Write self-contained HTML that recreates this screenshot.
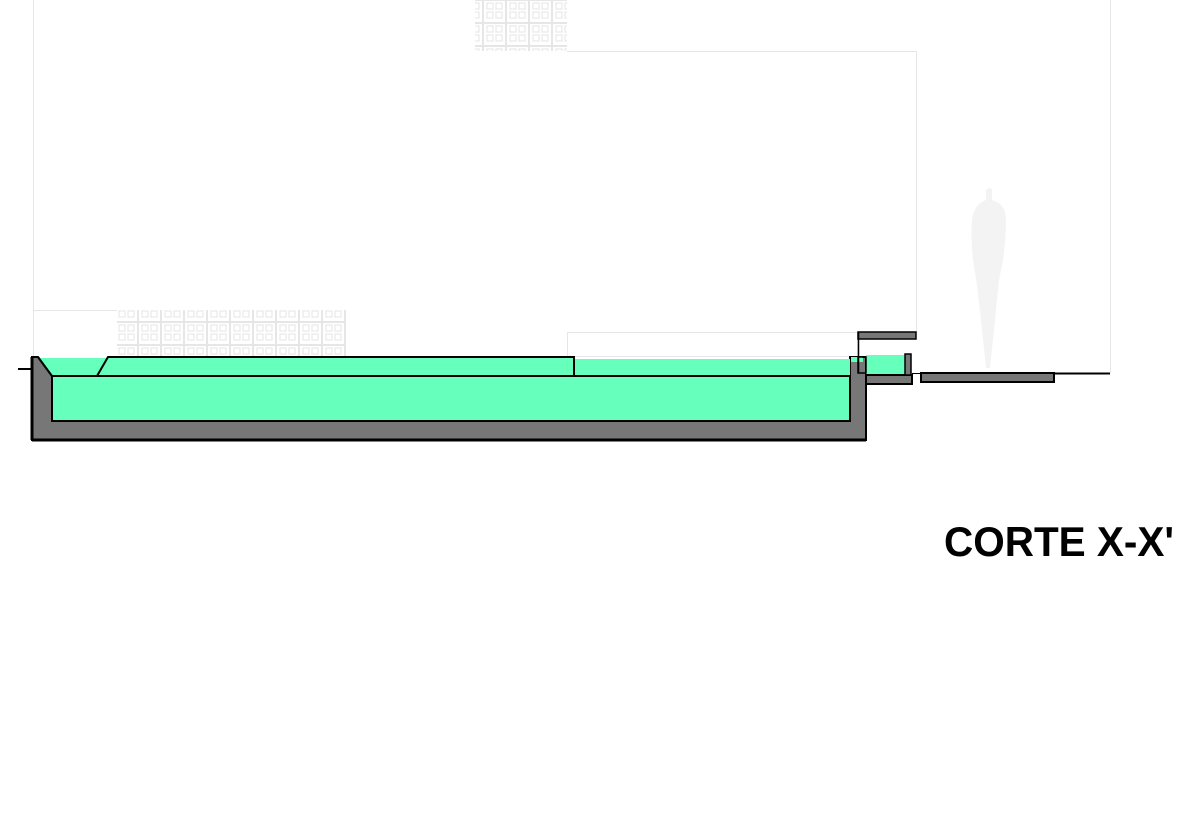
<!DOCTYPE html>
<html><head><style>
html,body{margin:0;padding:0;background:#fff;}
svg{display:block;}
</style></head><body>
<svg width="1200" height="814" viewBox="0 0 1200 814" xmlns="http://www.w3.org/2000/svg">
<defs>
<pattern id="blk" x="0" y="0" width="23" height="23" patternUnits="userSpaceOnUse">
<rect x="0.5" y="0.5" width="22" height="22" fill="none" stroke="#e6e6e6" stroke-width="1"/>
<rect x="4" y="3" width="6" height="6" fill="none" stroke="#e4e4e4" stroke-width="1"/>
<rect x="13" y="3" width="6" height="6" fill="none" stroke="#e4e4e4" stroke-width="1"/>
<rect x="4" y="12" width="6" height="6" fill="none" stroke="#e4e4e4" stroke-width="1"/>
<rect x="13" y="12" width="6" height="6" fill="none" stroke="#e4e4e4" stroke-width="1"/>
</pattern>
</defs>
<!-- light background structure -->
<g fill="none" stroke="#e6e6e6" stroke-width="1">
<line x1="33.5" y1="0" x2="33.5" y2="356"/>
<line x1="33" y1="310.5" x2="117" y2="310.5"/>
<line x1="567" y1="51.5" x2="917" y2="51.5"/>
<line x1="916.5" y1="51" x2="916.5" y2="332"/>
<line x1="1110.5" y1="0" x2="1110.5" y2="373"/>
<rect x="567.5" y="332.5" width="290" height="24"/>
</g>
<rect x="475" y="0" width="92" height="51" fill="url(#blk)"/>
<rect x="117" y="310" width="229" height="46" fill="url(#blk)"/>
<!-- figure -->
<path d="M986 190 q4 -4 6 0 l0 10 q14 4 14 20 q0 30 -7 60 q-4 40 -9 88 l-4 0 q-5 -50 -10 -90 q-6 -30 -4 -58 q2 -16 14 -20z" fill="#f3f3f3"/>
<!-- pool shell -->
<path d="M32 357 L38 357 L52 376 L52 421 L850 421 L850 357 L866 357 L866 440 L32 440 Z" fill="#777" stroke="#000" stroke-width="2"/>
<line x1="32" y1="440" x2="866" y2="440" stroke="#000" stroke-width="3"/>
<line x1="32" y1="357" x2="32" y2="440" stroke="#000" stroke-width="3"/>
<!-- water -->
<rect x="52" y="376" width="798" height="45" fill="#66ffbb" stroke="#000" stroke-width="2"/>
<path d="M39 358 L108 358 L97 375 L52 375 Z" fill="#66ffbb"/>
<path d="M108 357 L574 357 L574 376 L97 376 Z" fill="#66ffbb" stroke="#000" stroke-width="2"/>
<rect x="575" y="359" width="275" height="16" fill="#66ffbb"/>
<line x1="38" y1="357" x2="52" y2="376" stroke="#000" stroke-width="2"/>
<line x1="18" y1="369" x2="32" y2="369" stroke="#000" stroke-width="2"/>
<!-- right side -->
<rect x="866" y="355" width="40" height="20" fill="#66ffbb"/>
<rect x="851" y="357" width="12" height="5" fill="#66ffbb"/>
<path d="M866 375 L912 375 L912 384 L866 384 Z" fill="#777" stroke="#000" stroke-width="2"/>
<rect x="905" y="354" width="6" height="21" fill="#777" stroke="#000" stroke-width="1.5"/>
<rect x="858" y="332" width="58" height="7" fill="#777" stroke="#000" stroke-width="1.5"/>
<line x1="858.5" y1="332" x2="858.5" y2="373" stroke="#000" stroke-width="1.5"/>
<rect x="858" y="357" width="8" height="16" fill="none" stroke="#000" stroke-width="1.5"/>
<rect x="921" y="373" width="133" height="9" fill="#777" stroke="#000" stroke-width="2"/>
<line x1="1054" y1="373.5" x2="1110" y2="373.5" stroke="#000" stroke-width="2"/>
<line x1="912" y1="373.5" x2="921" y2="373.5" stroke="#000" stroke-width="1"/>
<text x="944" y="556" font-family="Liberation Sans, sans-serif" font-weight="bold" font-size="42" textLength="230" lengthAdjust="spacingAndGlyphs" fill="#000">CORTE X-X'</text>
</svg>
</body></html>
